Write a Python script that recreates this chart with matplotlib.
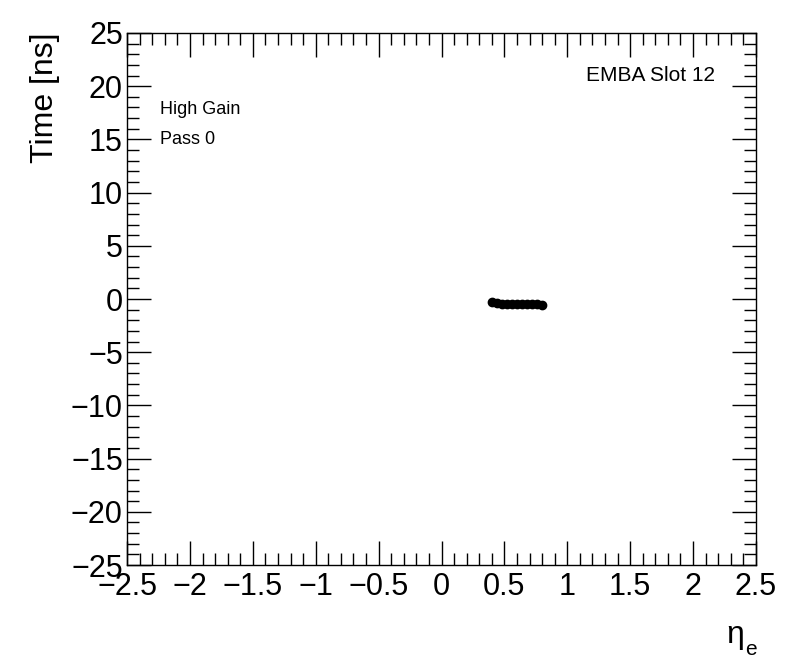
import numpy as np
import matplotlib.pyplot as plt
from matplotlib.ticker import MultipleLocator

plt.rcParams['font.family'] = ['Liberation Sans', 'DejaVu Sans']

# eta of each cell and its mean time
eta = [0.40, 0.44, 0.48, 0.52, 0.56, 0.60, 0.64, 0.68, 0.72, 0.76, 0.80]
time_ns = [-0.3, -0.35, -0.5, -0.5, -0.5, -0.5, -0.5, -0.5, -0.5, -0.5, -0.6]

fig = plt.figure(figsize=(7.96, 6.72), dpi=100)
ax = fig.add_axes([0.1596, 0.1592, 0.7901, 0.7917])

ax.plot(eta, time_ns, 'o', color='black', markersize=6, linestyle='none')

ax.set_xlim(-2.5, 2.5)
ax.set_ylim(-25, 25)
ax.xaxis.set_minor_locator(MultipleLocator(0.1))
ax.yaxis.set_minor_locator(MultipleLocator(1))
ax.set_xticks(np.arange(-2.5, 2.51, 0.5))
ax.set_xticklabels(['\u22122.5', '\u22122', '\u22121.5', '\u22121', '\u22120.5', '0',
                    '0.5', '1', '1.5', '2', '2.5'])
ax.set_yticks(np.arange(-25, 26, 5))
ax.set_yticklabels([('\u2212' + str(-v)) if v < 0 else str(v) for v in range(-25, 26, 5)])

ax.tick_params(which='both', direction='in', top=True, right=True, width=1, labelsize=22)
ax.tick_params(which='major', length=17)
ax.tick_params(which='minor', length=8.5)
ax.tick_params(axis='x', pad=5)
ax.tick_params(axis='y', pad=3)
for s in ax.spines.values():
    s.set_linewidth(1)

ax.set_ylabel('Time [ns]', fontsize=23, loc='top', labelpad=8)
fig.text(0.912, 0.033, '\u03b7', fontsize=23, ha='left', va='bottom')
fig.text(0.936, 0.020, 'e', fontsize=15, ha='left', va='bottom')

ax.text(0.053, 0.857, 'High Gain', transform=ax.transAxes, fontsize=13, va='center')
ax.text(0.053, 0.80, 'Pass 0', transform=ax.transAxes, fontsize=13, va='center')
ax.text(0.935, 0.92, 'EMBA Slot 12', transform=ax.transAxes, fontsize=15, va='center', ha='right')

fig.savefig('out.png', dpi=100)
